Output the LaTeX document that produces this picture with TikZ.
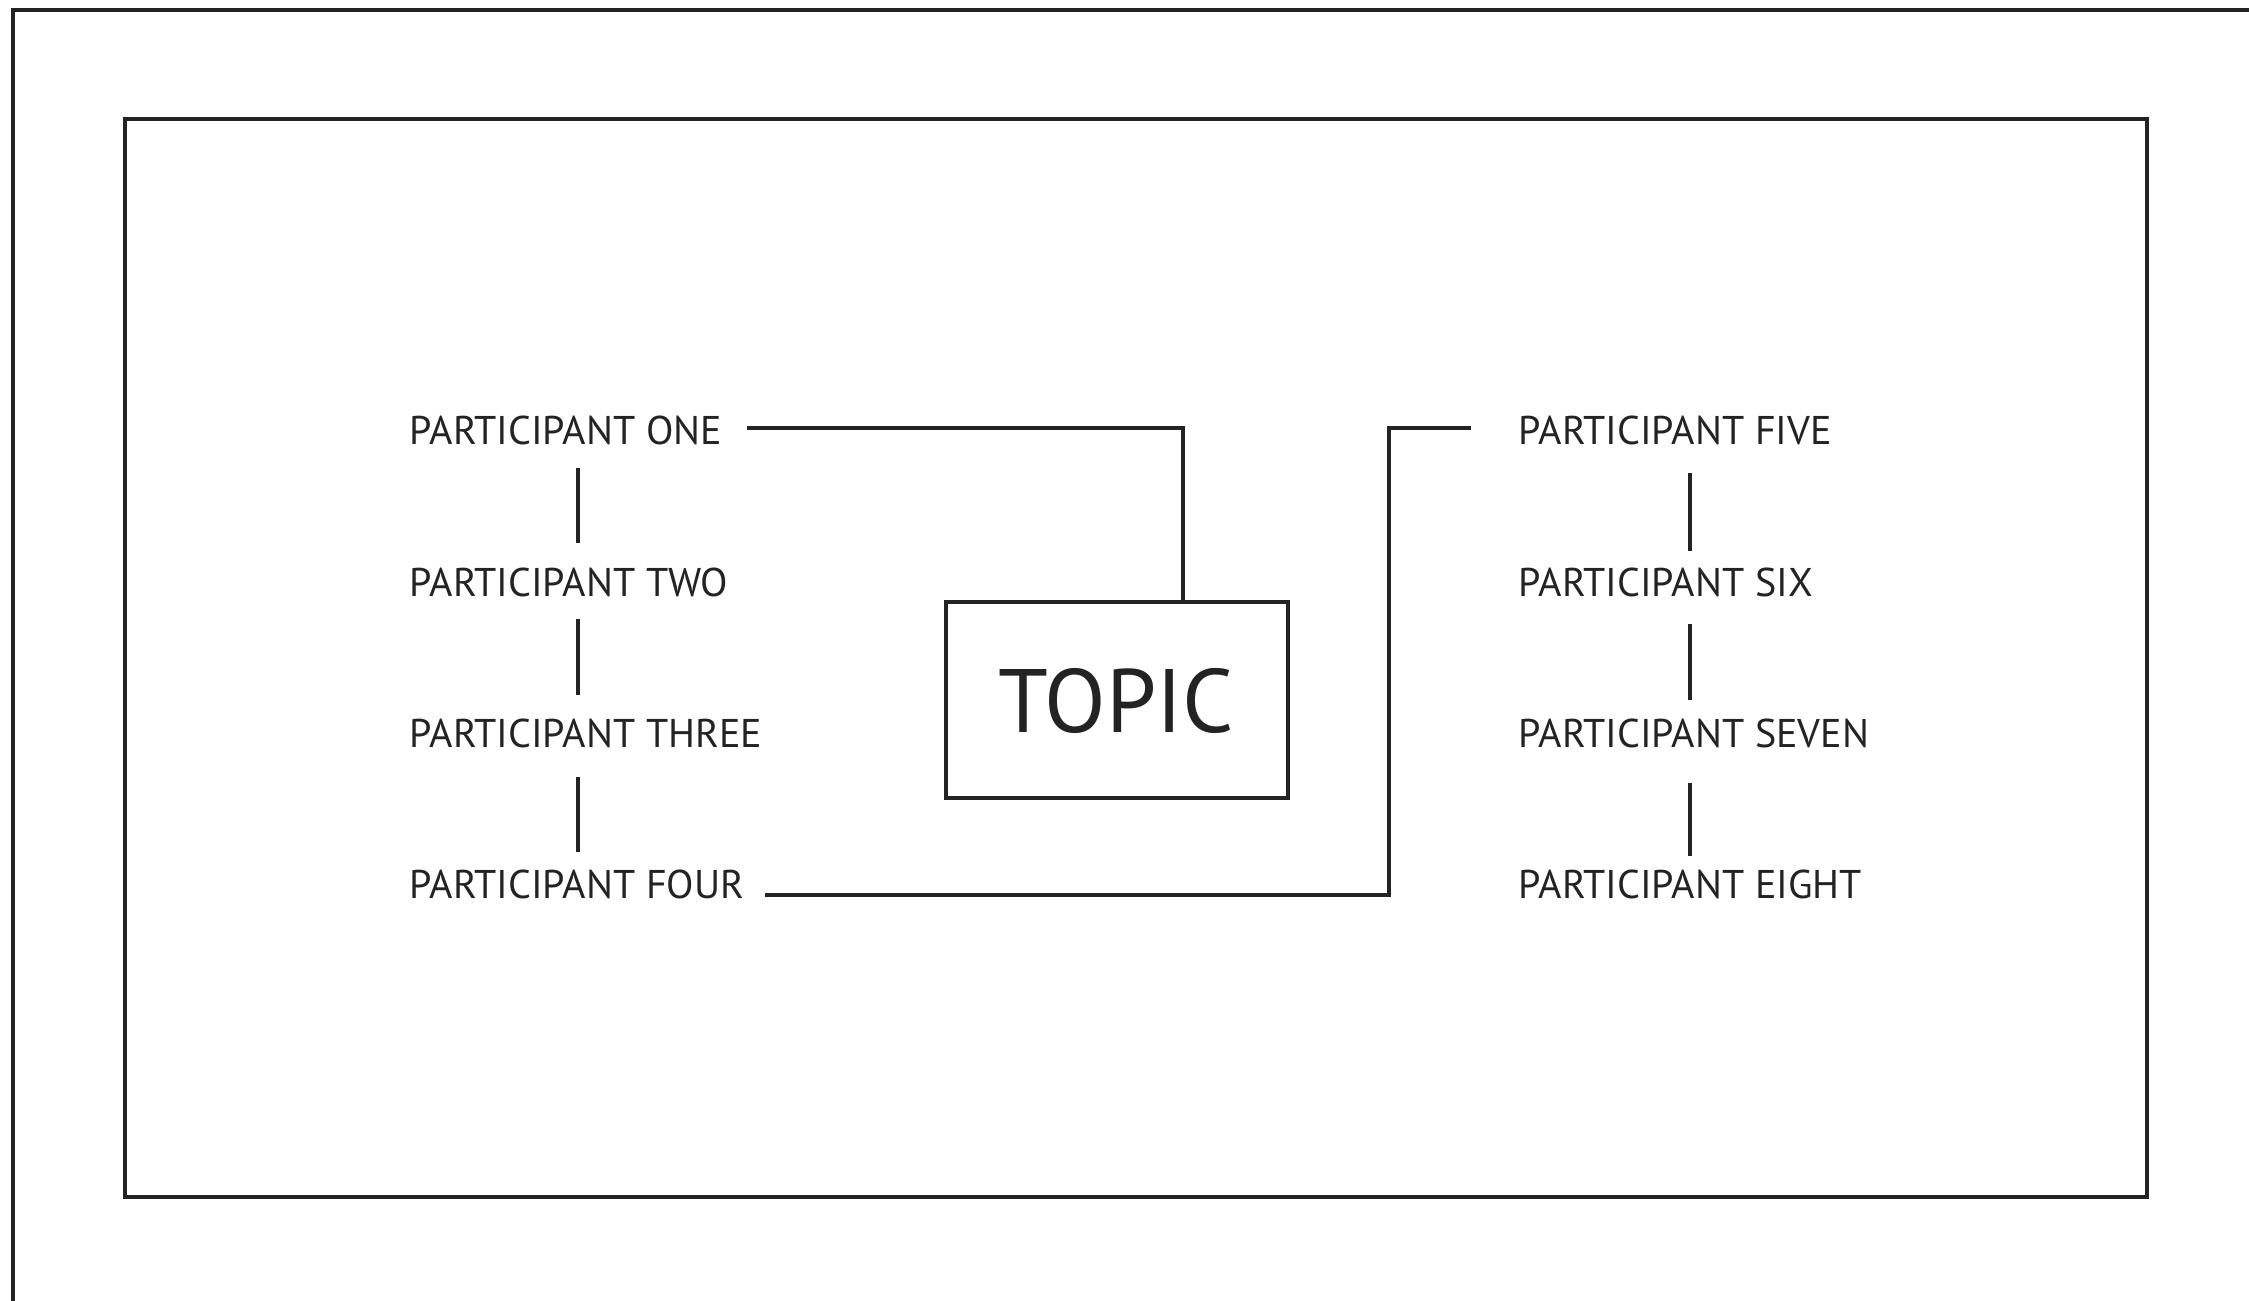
\documentclass[tikz,border=0pt]{standalone}
\usepackage{fontspec}
\setmainfont{PT Sans}
\definecolor{ink}{RGB}{35,35,35}
\begin{document}
\begin{tikzpicture}[x=0.01cm,y=-0.01cm,
  frame/.style={draw=ink, line width=0.045cm},
  link/.style={draw=ink, line width=0.04cm},
  lbl/.style={anchor=base west, inner sep=0pt, text=ink, font=\fontsize{11.4}{13}\selectfont},
  topicbox/.style={draw=ink, line width=0.04cm, minimum width=3.42cm, minimum height=1.96cm, inner sep=0pt}]
\useasboundingbox (0,0) rectangle (2249,1301);
% frames
\draw[frame] (13,1320) -- (13,10) -- (2270,10);
\draw[frame] (125,119) rectangle (2147,1197);
% left column
\node[lbl] (p1) at (409,445) {PARTICIPANT ONE};
\node[lbl] (p2) at (409,597) {PARTICIPANT TWO};
\node[lbl] (p3) at (409,748) {PARTICIPANT THREE};
\node[lbl] (p4) at (409,898) {PARTICIPANT FOUR};
% right column
\node[lbl] (p5) at (1518,445) {PARTICIPANT FIVE};
\node[lbl] (p6) at (1518,597) {PARTICIPANT SIX};
\node[lbl] (p7) at (1518,748) {PARTICIPANT SEVEN};
\node[lbl] (p8) at (1518,898) {PARTICIPANT EIGHT};
% topic
\node[topicbox] (topic) at (1117,700) {};
\node[anchor=base, inner sep=0pt, text=ink, font=\fontsize{25.6}{30}\selectfont] (tt) at (1116.5,733) {TOPIC};
% column axes
\coordinate (lx) at (578,0);
\coordinate (rx) at (1690,0);
% vertical links left
\draw[link, shorten <=0.22cm, shorten >=0.25cm] (lx |- p1.south) -- (lx |- p2.north);
\draw[link, shorten <=0.21cm, shorten >=0.24cm] (lx |- p2.south) -- (lx |- p3.north);
\draw[link, shorten <=0.28cm, shorten >=0.17cm] (lx |- p3.south) -- (lx |- p4.north);
% vertical links right
\draw[link, shorten <=0.27cm, shorten >=0.17cm] (rx |- p5.south) -- (rx |- p6.north);
\draw[link, shorten <=0.26cm, shorten >=0.19cm] (rx |- p6.south) -- (rx |- p7.north);
\draw[link, shorten <=0.34cm, shorten >=0.13cm] (rx |- p7.south) -- (rx |- p8.north);
% connectors
\coordinate (a1) at (747,428);
\coordinate (tx) at (1183,0);
\draw[link] (a1) -| (tx |- topic.north);
\coordinate (a4) at (765,895);
\coordinate (a5) at (1471,428);
\coordinate (bx) at (1389,0);
\draw[link] (a4) -| (bx |- a5) -- (a5);
\end{tikzpicture}
\end{document}
